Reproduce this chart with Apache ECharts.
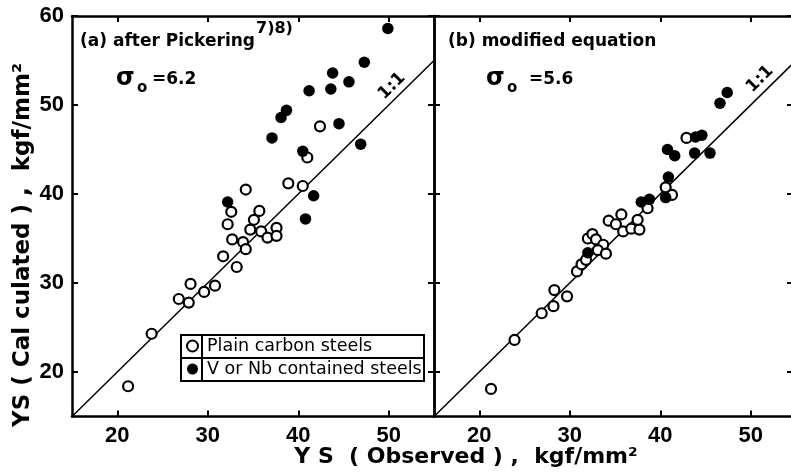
<!DOCTYPE html>
<html>
<head>
<meta charset="utf-8">
<script src="https://cdn.jsdelivr.net/npm/echarts@6/dist/echarts.min.js"></script>
<style>
html,body{margin:0;padding:0;background:#fff;}
#chart{width:791px;height:472px;}
</style>
</head>
<body>
<div id="chart"></div>
<script>
// ---- Data ----
var xTickValues = [20, 30, 40, 50];
var yTickValues = [20, 30, 40, 50, 60];
var seriesNames = ['Plain carbon steels', 'V or Nb contained steels'];
var oneToOne = [[15, 15], [55, 55]];

// (a) after Pickering
var leftPlain = [[21.2,18.4],[23.8,24.3],[26.8,28.2],[27.9,27.8],[28.1,29.9],[29.6,29.0],[30.8,29.7],[31.7,33.0],[33.2,31.8],[32.7,34.9],[33.9,34.6],[34.2,33.8],[32.2,36.6],[32.6,38.0],[34.7,36.0],[35.1,37.1],[35.7,38.1],[35.9,35.8],[36.6,35.1],[37.6,36.2],[37.6,35.3],[34.2,40.5],[38.9,41.2],[40.5,40.9],[42.4,47.6],[41.0,44.1]];
var leftVNb = [[32.2,39.1],[41.7,39.8],[40.8,37.2],[49.9,58.6],[47.3,54.8],[43.8,53.6],[45.6,52.6],[43.6,51.8],[41.2,51.6],[38.7,49.4],[38.1,48.6],[44.5,47.9],[37.1,46.3],[46.9,45.6],[40.5,44.8]];

// (b) modified equation
var rightPlain = [[21.3,18.1],[23.9,23.6],[26.9,26.6],[28.2,27.4],[28.3,29.2],[29.7,28.5],[30.8,31.3],[31.3,32.1],[31.8,32.6],[32.0,35.0],[32.5,35.5],[32.9,34.9],[33.7,34.3],[33.1,33.7],[34.0,33.3],[34.3,37.0],[35.1,36.6],[35.7,37.7],[35.9,35.8],[36.8,36.1],[37.7,36.0],[37.5,37.1],[38.6,38.4],[40.6,40.75],[41.3,39.9],[42.9,46.3]];
var rightVNb = [[32.0,33.4],[37.9,39.1],[38.8,39.4],[40.6,39.6],[40.9,41.9],[40.8,45.0],[41.6,44.3],[43.8,44.6],[45.5,44.6],[43.9,46.4],[44.6,46.6],[46.6,50.2],[47.4,51.4]];

// ---- Chart ----
var FONT = 'Liberation Sans';
var TFONT = 'DejaVu Sans';
var chart = echarts.init(document.getElementById('chart'), null, {renderer: 'canvas'});

function xAx(grid, pos, labels) {
  return {
    type: 'value', gridIndex: grid, position: pos, min: 15, max: 55,
    axisLine: {show: true, onZero: false, lineStyle: {color: '#000', width: 2.5}},
    axisTick: {show: true, inside: true, length: 6, customValues: xTickValues, lineStyle: {color: '#000', width: 2}},
    axisLabel: {show: labels, customValues: xTickValues, margin: 8, color: '#000', fontFamily: FONT, fontWeight: 'bold', fontSize: 22},
    splitLine: {show: false}
  };
}
function yAx(grid, pos, labels, lineShow, tickLen) {
  return {
    type: 'value', gridIndex: grid, position: pos, min: 15, max: 60,
    axisLine: {show: lineShow, onZero: false, lineStyle: {color: '#000', width: 2.5}},
    axisTick: {show: true, inside: true, length: tickLen, customValues: yTickValues, lineStyle: {color: '#000', width: 2}},
    axisLabel: {show: labels, customValues: yTickValues, margin: 8, color: '#000', fontFamily: FONT, fontWeight: 'bold', fontSize: 22},
    splitLine: {show: false}
  };
}

var openStyle = {color: '#fff', borderColor: '#000', borderWidth: 2.2, opacity: 1};
var fillStyle = {color: '#000', borderColor: '#000', borderWidth: 0, opacity: 1};

function panelSeries(k, plain, vnb) {
  return [
    {type: 'line', name: '1:1', xAxisIndex: 2*k, yAxisIndex: 2*k, data: oneToOne, symbol: 'none', silent: true,
     lineStyle: {color: '#000', width: 1.5}, z: 1},
    {type: 'scatter', name: seriesNames[0], xAxisIndex: 2*k, yAxisIndex: 2*k, data: plain, symbol: 'circle', symbolSize: 10,
     itemStyle: openStyle, z: 3},
    {type: 'scatter', name: seriesNames[1], xAxisIndex: 2*k, yAxisIndex: 2*k, data: vnb, symbol: 'circle', symbolSize: 11.5,
     itemStyle: fillStyle, z: 4}
  ];
}

function txt(x, y, text, font, extra) {
  var st = {text: text, x: 0, y: 0, fill: '#000', font: font, textAlign: 'left', textVerticalAlign: 'middle'};
  var el = {type: 'text', x: x, y: y, z: 10, style: st};
  if (extra) { for (var k in extra) { if (k === 'style') { for (var s in extra.style) st[s] = extra.style[s]; } else el[k] = extra[k]; } }
  return el;
}
var F17 = 'bold 17px "' + TFONT + '"';

var option = {
  animation: false,
  backgroundColor: '#fff',
  grid: [
    {left: 72, top: 16, width: 362, height: 400.5, outerBoundsMode: 'none', containLabel: false},
    {left: 434, top: 16, width: 362, height: 400.5, outerBoundsMode: 'none', containLabel: false}
  ],
  xAxis: [xAx(0, 'bottom', true), xAx(0, 'top', false), xAx(1, 'bottom', true), xAx(1, 'top', false)],
  yAxis: [yAx(0, 'left', true, true, 6), yAx(0, 'right', false, true, 6), yAx(1, 'left', false, true, 6), yAx(1, 'right', false, false, 9)],
  legend: {
    data: seriesNames, orient: 'vertical', left: 186, top: 337, padding: 0,
    itemWidth: 11, itemHeight: 11, itemGap: 5, selectedMode: false,
    textStyle: {color: '#000', fontFamily: TFONT, fontSize: 17.5, lineHeight: 18, padding: [0, 0, 0, 4]}
  },
  series: panelSeries(0, leftPlain, leftVNb).concat(panelSeries(1, rightPlain, rightVNb)),
  graphic: [
    // legend table frame
    {type: 'rect', shape: {x: 181, y: 335, width: 243, height: 46}, style: {fill: 'none', stroke: '#000', lineWidth: 2}, z: 10},
    {type: 'line', shape: {x1: 202, y1: 335, x2: 202, y2: 381}, style: {stroke: '#000', lineWidth: 2}, z: 10},
    {type: 'line', shape: {x1: 181, y1: 358, x2: 424, y2: 358}, style: {stroke: '#000', lineWidth: 2}, z: 10},
    // panel annotations
    txt(80, 42, '(a) after Pickering', F17),
    txt(256, 29, '7)8)', 'bold 16px "' + TFONT + '"'),
    txt(116, 79, 'σ', 'bold 24px "DejaVu Sans"'),
    txt(137, 88, 'o', 'bold 15px "' + TFONT + '"'),
    txt(152, 80, '=6.2', F17),
    txt(448, 42, '(b) modified equation', F17),
    txt(486, 79, 'σ', 'bold 24px "DejaVu Sans"'),
    txt(507, 88, 'o', 'bold 15px "' + TFONT + '"'),
    txt(529, 80, '=5.6', F17),
    txt(392, 86, '1:1', F17, {rotation: Math.PI / 4, style: {textAlign: 'center'}}),
    txt(760, 79, '1:1', F17, {rotation: Math.PI / 4, style: {textAlign: 'center'}}),
    // axis titles
    txt(23, 245, 'YS ( Cal culated ) ,  kgf/mm²', 'bold 23px "' + TFONT + '"', {rotation: Math.PI / 2, style: {textAlign: 'center'}}),
    txt(466, 457, 'Y S  ( Observed ) ,  kgf/mm²', 'bold 22px "' + TFONT + '"', {style: {textAlign: 'center'}})
  ]
};
chart.setOption(option);
</script>
</body>
</html>
